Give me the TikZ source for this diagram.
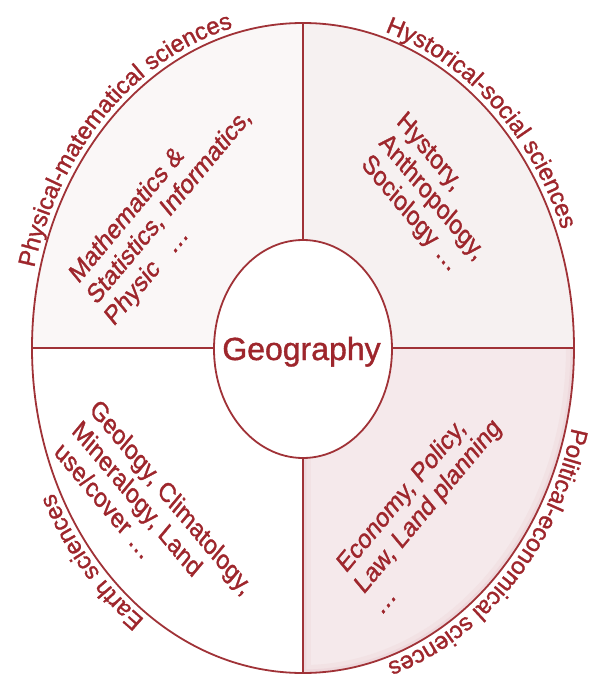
\documentclass[tikz,border=0pt]{standalone}
\usepackage{fontspec}
\setmainfont{Liberation Sans}[FakeBold=1.2]
\usetikzlibrary{decorations.text}
\definecolor{ln}{RGB}{160,50,55}
\definecolor{txt}{RGB}{158,38,44}
\definecolor{tlfill}{RGB}{250,247,247}
\definecolor{trfill}{RGB}{246,241,241}
\definecolor{brfill}{RGB}{245,233,235}
\definecolor{brshade}{RGB}{236,212,216}
\newcommand{\lblfnt}{\fontsize{24}{28}\selectfont}
\begin{document}
\begin{tikzpicture}[x=1pt,y=1pt,
  outline/.style={draw=ln, line width=1.8pt},
  qtext/.style={text=txt, font=\fontsize{22.7}{25}\selectfont, align=left, inner sep=0pt},
  arclabel/.style={decorate, decoration={text along path, text align=center, text={#1}}}
]
\useasboundingbox (-303,-333) rectangle (294,348);
\fill[white] (-303,-333) rectangle (294,348);
% quadrant fills
\fill[tlfill] (0,0) -- (-271,0) arc[start angle=180, end angle=90, x radius=271, y radius=325] -- cycle;
\fill[trfill] (0,0) -- (0,325) arc[start angle=90, end angle=0, x radius=271, y radius=325] -- cycle;
\fill[brfill] (0,0) -- (271,0) arc[start angle=0, end angle=-90, x radius=271, y radius=325] -- cycle;
\begin{scope}
  \clip (0,0) -- (271,0) arc[start angle=0, end angle=-90, x radius=271, y radius=325] -- cycle;
  \draw[brshade!35!brfill, line width=16pt] (0,-110) -- (0,-325) arc[start angle=-90, end angle=0, x radius=271, y radius=325];
  \draw[brshade!80!brfill, line width=7pt] (0,-110) -- (0,-325) arc[start angle=-90, end angle=0, x radius=271, y radius=325];
\end{scope}
% connector end points
\coordinate (otop) at (0,325);
\coordinate (obot) at (0,-325);
\coordinate (oleft) at (-271,0);
\coordinate (oright) at (271,0);
\coordinate (itop) at (0,108);
\coordinate (ibot) at (0,-110);
\coordinate (ileft) at (-89,0);
\coordinate (iright) at (89,0);
\draw[outline] (itop) -- (otop);
\draw[outline] (ibot) -- (obot);
\draw[outline] (ileft) -- (oleft);
\draw[outline] (iright) -- (oright);
\draw[outline] (0,0) ellipse [x radius=271, y radius=325];
\draw[outline, fill=white] (0,-1) ellipse [x radius=89, y radius=109];
% texts
\node[font=\fontsize{32}{38}\selectfont, text=txt, anchor=base, inner sep=0pt] (geo) at (-1.5,-12) {Geography};
\node[qtext, yscale=1.2, rotate=45] (tl) at (-133,141) {Mathematics \&\\Statistics, Informatics,\\Physic\hspace{0.5em} \dots};
\node[qtext, yscale=1.2, rotate=-45] (tr) at (128,150) {Hystory,\\Anthropology,\\Sociology \dots};
\node[qtext, yscale=1.2, rotate=-45] (bl) at (-149,-170) {Geology, Climatology,\\Mineralogy, Land\\use/cover \dots};
\node[qtext, yscale=1.2, rotate=45] (br) at (124,-157) {Economy, Policy,\\Law, Land planning\\\dots};
% outer labels
\path[arclabel={|\lblfnt\color{txt}|Physical-matematical sciences}] (175:277 and 331) arc[start angle=175, end angle=94, x radius=277, y radius=331];
\path[arclabel={|\lblfnt\color{txt}|Hystorical-social sciences}] (88:277 and 331) arc[start angle=88, end angle=8, x radius=277, y radius=331];
\path[arclabel={|\lblfnt\color{txt}|Political-economical sciences}] (-4:277 and 331) arc[start angle=-4, end angle=-84, x radius=277, y radius=331];
\path[arclabel={|\lblfnt\color{txt}|Earth sciences}] (-108:277 and 331) arc[start angle=-108, end angle=-169, x radius=277, y radius=331];
\end{tikzpicture}
\end{document}
